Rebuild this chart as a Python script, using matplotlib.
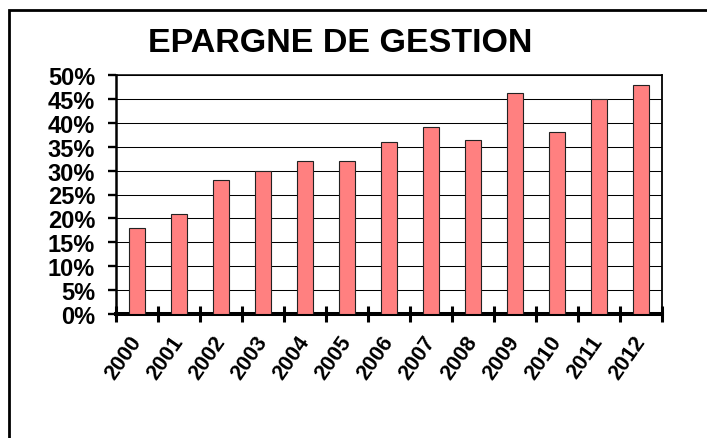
import matplotlib
matplotlib.use("Agg")
import matplotlib.pyplot as plt
from matplotlib.patches import Rectangle
from matplotlib.ticker import FuncFormatter, MultipleLocator
import numpy as np

# data
years = ['2000', '2001', '2002', '2003', '2004', '2005', '2006',
         '2007', '2008', '2009', '2010', '2011', '2012']
epargne = [18, 21, 28, 30, 32, 32, 36, 39.2, 36.3, 46.3, 38, 45, 48]
title = 'EPARGNE DE GESTION'

plt.rcParams['font.family'] = ['Liberation Sans', 'DejaVu Sans']
plt.rcParams['font.weight'] = 'bold'

fig = plt.figure(figsize=(7.07, 4.39), dpi=100)
ax = fig.add_axes([116 / 707, 1 - 315 / 439, (662 - 116) / 707, (315 - 76) / 439])

x = np.arange(len(years))
ax.bar(x, epargne, width=0.4, color='#FF8080', edgecolor='#222222',
       linewidth=0.8, zorder=3)

ax.set_xlim(-0.5, len(years) - 0.5)
ax.set_ylim(0, 50)
ax.yaxis.set_major_locator(MultipleLocator(5))
ax.yaxis.set_major_formatter(FuncFormatter(lambda v, p: '%d%%' % v))
ax.grid(axis='y', color='black', linewidth=0.75, zorder=1)

# ticks between categories on the x axis, labels under each bar
ax.set_xticks(np.arange(len(years) + 1) - 0.5)
ax.set_xticklabels([])
ax.set_xticks(x, minor=True)
ax.set_xticklabels(years, minor=True, rotation=55, ha='right', va='center',
                   rotation_mode='anchor', fontsize=15.5, fontweight='bold')
ax.tick_params(axis='x', which='major', direction='inout', length=12, width=2.2)
ax.tick_params(axis='x', which='minor', length=0, pad=17)
ax.tick_params(axis='y', direction='out', length=6, width=1.7, labelsize=17, pad=9)
for lab in ax.get_yticklabels():
    lab.set_fontweight('bold')

ax.spines['left'].set_linewidth(1.8)
ax.spines['bottom'].set_linewidth(2.9)
ax.spines['top'].set_linewidth(1.1)
ax.spines['right'].set_linewidth(1.3)

fig.text(340 / 707, 1 - 44 / 439, title, ha='center', va='center',
         fontsize=24.5, fontweight='bold')

# outer frame of the chart area (runs off the right and bottom edges)
fig.patches.append(Rectangle((9 / 707, -0.1), 1.2, 1.1 - 11 / 439,
                             transform=fig.transFigure, fill=False,
                             edgecolor='black', linewidth=2))

fig.savefig('out.png', dpi=100)
